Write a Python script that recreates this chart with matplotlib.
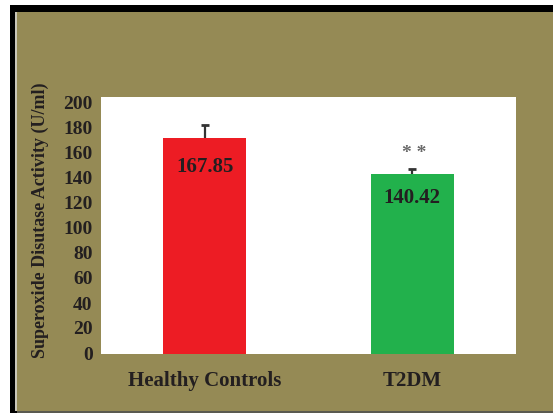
import matplotlib
matplotlib.use("Agg")
import matplotlib.pyplot as plt
import matplotlib.transforms as mtransforms
from matplotlib.patches import Rectangle

# Data
groups = ["Healthy Controls", "T2DM"]
sod_means = [167.85, 140.42]
sod_errors = [10.5, 3.5]
significance = ["", "* *"]
y_ticks = [0, 20, 40, 60, 80, 100, 120, 140, 160, 180, 200]

bar_colors = ["#ED1C24", "#22B14C"]
text_color = "#231F20"
olive = "#958A55"

W, H = 553, 413
fig = plt.figure(figsize=(W / 100, H / 100), dpi=100, facecolor="white")


def px_rect(x0, y0, x1, y1, color, z):
    """Rectangle given in pixel coordinates measured from the top-left corner."""
    fig.add_artist(Rectangle((x0 / W, 1 - y1 / H), (x1 - x0) / W, (y1 - y0) / H,
                             transform=fig.transFigure, facecolor=color,
                             edgecolor="none", zorder=z))


# Black frame and olive panel
px_rect(10, 5, W, H, "black", -3)
px_rect(15, 12, 16.5, 411, "#C9C6B8", -2.5)
px_rect(16.5, 12, W, 411, olive, -2)
px_rect(16.5, 411, W, H, "#5A5A50", -2)

ax = fig.add_axes([101 / W, 1 - 354 / H, 415 / W, 257 / H])
ax.set_facecolor("white")
for s in ax.spines.values():
    s.set_visible(False)

serif = ["Liberation Serif", "DejaVu Serif"]
x = list(range(len(groups)))
tops = [m + e for m, e in zip(sod_means, sod_errors)]
ax.bar(x, sod_means, width=0.4, color=bar_colors, zorder=2)
# upper error bars only, capped at the top
ax.vlines(x, sod_means, tops, colors="#333333", linewidth=1.6, zorder=3)
ax.plot(x, tops, linestyle="none", marker="_", markersize=6,
        markeredgewidth=2, color="#333333", zorder=3)

for xi, v, e, sig in zip(x, sod_means, sod_errors, significance):
    ax.text(xi, v * 0.865, f"{v:.2f}", ha="center", va="center", fontsize=15,
            fontweight="bold", family=serif, color=text_color, zorder=4)
    if sig:
        ax.text(xi + 0.01, v + e + 12, sig, ha="center", va="center", fontsize=14,
                fontweight="bold", family=serif, color="#6A6A6A", zorder=4)

ax.set_xlim(-0.5, 1.5)
ax.set_ylim(0, 200)
ax.set_yticks(y_ticks)
ax.set_yticklabels([str(t) for t in y_ticks])
ax.set_xticks(x)
ax.set_xticklabels(groups)
ax.tick_params(axis="both", length=0, labelcolor=text_color)
ax.tick_params(axis="y", pad=6)
ax.tick_params(axis="x", pad=12)
for lab in ax.get_yticklabels() + ax.get_xticklabels():
    lab.set_fontfamily(serif)
    lab.set_fontweight("bold")
for lab in ax.get_xticklabels():
    lab.set_fontsize(15)
# y labels sit on a slightly tighter spacing than the gridline positions
for t, lab in zip(y_ticks, ax.get_yticklabels()):
    lab.set_fontsize(14)
    dy = -(7 * t / 200 - 1) / 100
    lab.set_transform(lab.get_transform() +
                      mtransforms.ScaledTranslation(0, dy, fig.dpi_scale_trans))

fig.text(40 / W, 1 - 220 / H, "Superoxide Disutase Activity (U/ml)", rotation=90,
         ha="center", va="center", fontsize=13, fontweight="bold",
         family=serif, color=text_color)

fig.savefig("out.png", dpi=100, facecolor=fig.get_facecolor())
